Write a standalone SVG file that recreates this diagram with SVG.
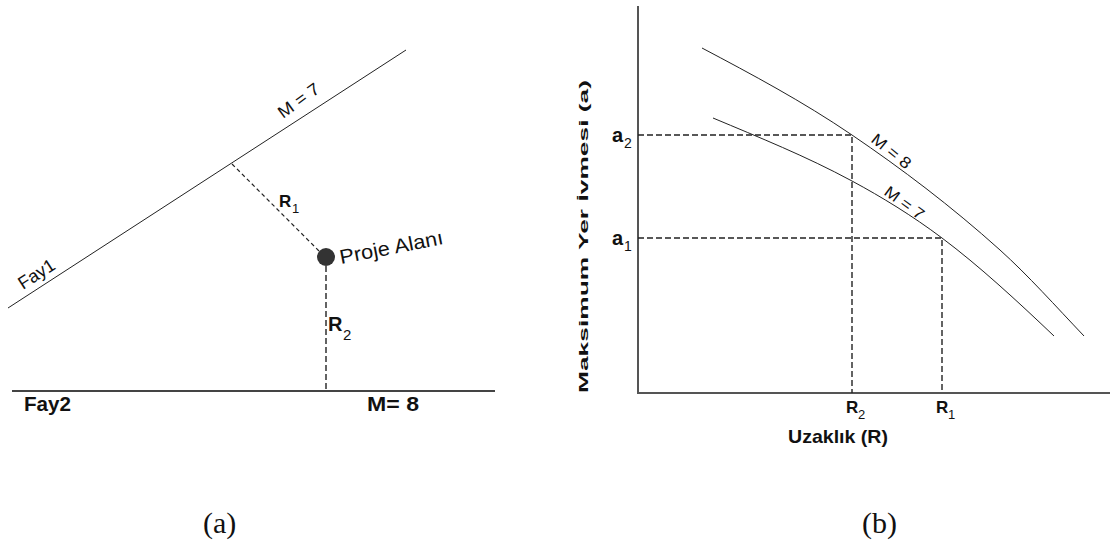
<svg xmlns="http://www.w3.org/2000/svg" width="1110" height="546" viewBox="0 0 1110 546">
<style>
text{font-family:"Liberation Sans",Arial,sans-serif;fill:#111}
.b{font-weight:bold}
.cap{font-family:"Liberation Serif","Times New Roman",serif;font-size:30px}
.thin{stroke:#222;stroke-width:1;fill:none}
.axis{stroke:#555;stroke-width:2;fill:none}
.dash{stroke:#222;stroke-width:1.4;stroke-dasharray:6 3;fill:none}
.dash2{stroke:#222;stroke-width:1.2;stroke-dasharray:4 3;fill:none}
</style>
<rect width="1110" height="546" fill="#fff"/>

<!-- Panel (a) -->
<g id="connectors-a">
  <line class="dash2" x1="232" y1="164" x2="320" y2="252"/>
  <line class="dash" x1="326" y1="266" x2="326" y2="391"/>
</g>
<g id="fay1">
  <line class="thin" x1="8" y1="308" x2="406" y2="50"/>
  <text transform="translate(23,290) rotate(-33)" font-size="18">Fay1</text>
  <text transform="translate(283,119) rotate(-36)" font-size="17" textLength="47" lengthAdjust="spacingAndGlyphs">M = 7</text>
</g>
<g id="fay2">
  <line x1="12" y1="391" x2="495" y2="391" stroke="#444" stroke-width="2"/>
  <text class="b" x="24" y="411" font-size="20" textLength="47" lengthAdjust="spacingAndGlyphs">Fay2</text>
  <text class="b" x="367" y="411" font-size="20" textLength="52" lengthAdjust="spacingAndGlyphs">M= 8</text>
</g>
<g id="proje-alani">
  <circle cx="326" cy="257" r="9" fill="#333"/>
  <text transform="translate(341,264) rotate(-11)" font-size="20" textLength="105" lengthAdjust="spacingAndGlyphs">Proje Alanı</text>
</g>
<g id="labels-a">
  <text class="b" x="279" y="207" font-size="17">R</text>
  <text x="292" y="213" font-size="13">1</text>
  <text class="b" x="328" y="331" font-size="20">R</text>
  <text x="343" y="340" font-size="15">2</text>
</g>
<text class="cap" x="203" y="533">(a)</text>

<!-- Panel (b) -->
<g id="axes">
  <line class="axis" x1="638" y1="6" x2="638" y2="394"/>
  <line class="axis" x1="637" y1="393" x2="1110" y2="393"/>
  <text class="b" transform="translate(588,393) rotate(-90)" font-size="13.5" textLength="313" lengthAdjust="spacingAndGlyphs">Maksimum Yer İvmesi (a)</text>
  <text class="b" x="788" y="443" font-size="19" textLength="100" lengthAdjust="spacingAndGlyphs">Uzaklık (R)</text>
</g>
<g id="connectors-b">
  <polyline class="dash" points="638,135 852,135 852,393"/>
  <polyline class="dash" points="638,238 942,238 942,393"/>
</g>
<g id="curve-m8">
  <path class="thin" d="M702,48 C752,74.5 802,101 852,135 C901,168.3 951,205.9 1000,250 C1028,275.2 1056,306.6 1084,336"/>
  <text transform="translate(870,141) rotate(39)" font-size="16" textLength="46" lengthAdjust="spacingAndGlyphs">M = 8</text>
</g>
<g id="curve-m7">
  <path class="thin" d="M713,118 C759.3,137.5 805.7,156 852,181 C882,197.2 912,215.5 942,238 C979.3,266 1016.7,300.5 1054,336"/>
  <text transform="translate(883,194) rotate(36)" font-size="16" textLength="45" lengthAdjust="spacingAndGlyphs">M = 7</text>
</g>
<g id="labels-b">
  <text class="b" x="612" y="142" font-size="20">a</text>
  <text x="624" y="148" font-size="14">2</text>
  <text class="b" x="612" y="245" font-size="20">a</text>
  <text x="624" y="251" font-size="14">1</text>
  <text class="b" x="846" y="413" font-size="17">R</text>
  <text x="858" y="419" font-size="13">2</text>
  <text class="b" x="936" y="413" font-size="17">R</text>
  <text x="948" y="419" font-size="13">1</text>
</g>
<text class="cap" x="862" y="533">(b)</text>
</svg>
